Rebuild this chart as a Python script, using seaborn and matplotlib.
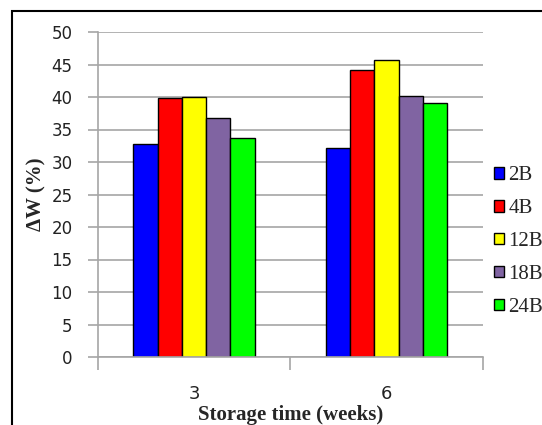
import matplotlib
matplotlib.use("Agg")
import matplotlib.pyplot as plt
import seaborn as sns
import pandas as pd
from matplotlib.patches import Rectangle

weeks = ["3", "6"]
samples = ["2B", "4B", "12B", "18B", "24B"]
vals_3 = [32.8, 39.8, 40.0, 36.7, 33.7]
vals_6 = [32.2, 44.2, 45.7, 40.2, 39.1]
colors = ["#0000FF", "#FF0000", "#FFFF00", "#8064A2", "#00FF00"]

rows = []
for s, v in zip(samples, vals_3):
    rows.append({"week": "3", "sample": s, "dw": v})
for s, v in zip(samples, vals_6):
    rows.append({"week": "6", "sample": s, "dw": v})
df = pd.DataFrame(rows)

sns.set_theme(style="white")
W, H = 542, 425
fig = plt.figure(figsize=(W / 100, H / 100), dpi=100)
ax = fig.add_axes([97.7 / W, (H - 357) / H, 385 / W, 325 / H])

sns.barplot(data=df, x="week", y="dw", hue="sample", order=weeks,
            hue_order=samples, palette=colors, width=0.63, ax=ax,
            edgecolor="black", linewidth=1.0, saturation=1, legend=True)

ax.set_ylim(0, 50)
ax.set_xlim(-0.5, 1.5)
ax.set_yticks(range(0, 51, 5))
ax.yaxis.grid(True, color="#A6A6A6", linewidth=1.2)
ax.set_axisbelow(True)
for s in ["top", "right"]:
    ax.spines[s].set_visible(False)
for s in ["left", "bottom"]:
    ax.spines[s].set_color("#A6A6A6")
    ax.spines[s].set_linewidth(1.2)

ax.tick_params(axis="y", which="major", left=True, length=7, width=1.2,
               color="#A6A6A6", labelsize=12, pad=11, labelcolor="#222222")
ax.tick_params(axis="x", which="major", bottom=False, labelsize=13, pad=14,
               labelcolor="#222222")
ax.set_xticks([-0.5, 0.5, 1.5], minor=True)
ax.tick_params(axis="x", which="minor", bottom=True, length=9, width=1.2,
               color="#A6A6A6")

ax.set_xlabel("Storage time (weeks)", fontfamily="Liberation Serif",
              fontweight="bold", fontsize=15, labelpad=1.5)
ax.set_ylabel("ΔW (%)", fontfamily="Liberation Serif",
              fontweight="bold", fontsize=15, labelpad=4)

leg = ax.get_legend()
handles = leg.legend_handles
leg.remove()
fig.legend(handles, samples, loc="upper left",
           bbox_to_anchor=(494 / W, 1 - 166 / H),
           frameon=False, prop={"family": "Liberation Serif", "size": 15},
           handlelength=0.5, handleheight=0.5, handletextpad=0.2,
           labelspacing=0.67, borderaxespad=0, borderpad=0)

fig.patches.append(Rectangle((12 / W, -0.1), 1.2, (H - 11) / H + 0.1,
                             transform=fig.transFigure, fill=False,
                             edgecolor="black", linewidth=1.5, zorder=10))

fig.savefig("out.png", dpi=100)
